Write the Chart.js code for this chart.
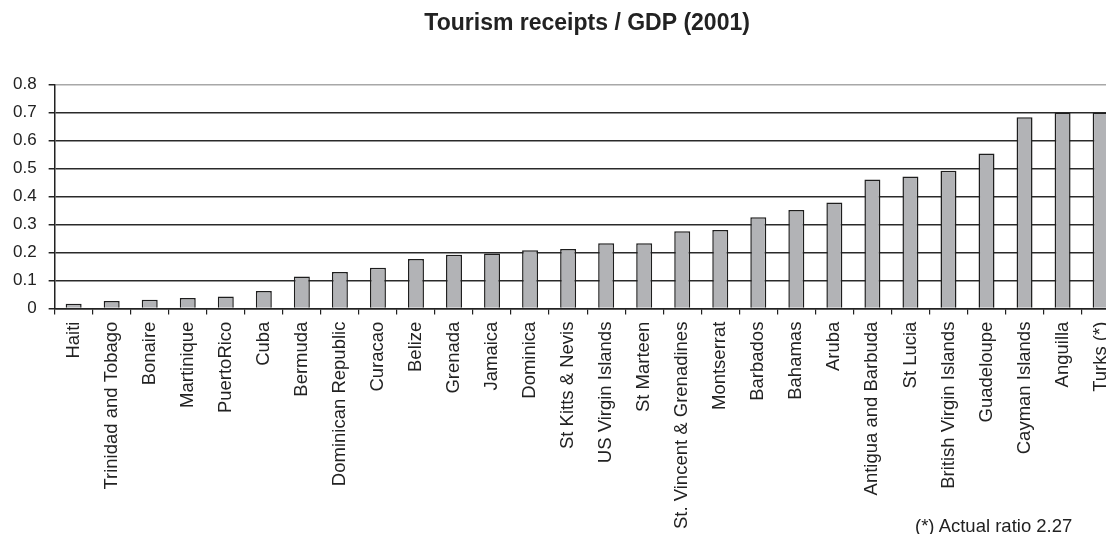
<!DOCTYPE html>
<html>
<head>
<meta charset="utf-8">
<script src="https://cdn.jsdelivr.net/npm/chart.js@4/dist/chart.umd.min.js"></script>
<style>
  html, body { margin: 0; padding: 0; background: #fff; overflow: hidden; }
  #wrap { position: relative; width: 1130px; height: 536px; }
  #note { position: absolute; left: 915px; top: 516px; font: 18.5px "Liberation Sans", Arial, sans-serif; line-height: 20px; color: #222; white-space: nowrap; }
</style>
</head>
<body>
<div id="wrap">
  <canvas id="tourismChart"></canvas>
  <div id="note">(*) Actual ratio 2.27</div>
</div>
<script>
const islands = ['Haiti', 'Trinidad and Tobago', 'Bonaire', 'Martinique', 'PuertoRico', 'Cuba', 'Bermuda',
    'Dominican Republic', 'Curacao', 'Belize', 'Grenada', 'Jamaica', 'Dominica', 'St Kitts & Nevis',
    'US Virgin Islands', 'St Marteen', 'St. Vincent & Grenadines', 'Montserrat', 'Barbados', 'Bahamas',
    'Aruba', 'Antigua and Barbuda', 'St Lucia', 'British Virgin Islands', 'Guadeloupe', 'Cayman Islands',
    'Anguilla', 'Turks (*)'];
const receiptsToGdp = [0.017, 0.027, 0.032, 0.038, 0.043, 0.063, 0.115, 0.131, 0.146, 0.177, 0.192, 0.197,
    0.208, 0.213, 0.233, 0.233, 0.276, 0.281, 0.326, 0.352, 0.379, 0.461, 0.472, 0.492, 0.554, 0.683,
    0.70, 0.70];
const yTickLabels = ['0', '0.1', '0.2', '0.3', '0.4', '0.5', '0.6', '0.7', '0.8'];

function initChart() {
    const ctx = document.getElementById('tourismChart').getContext('2d');
    new Chart(ctx, {
        type: 'bar',
        data: {
            labels: islands,
            datasets: [{
                data: receiptsToGdp,
                backgroundColor: '#b2b3b6',
                borderColor: '#1e1e1e',
                borderWidth: 1.5,
                barPercentage: 0.42,
                categoryPercentage: 1
            }]
        },
        options: {
            responsive: true,
            maintainAspectRatio: false,
            animation: false,
            layout: { padding: { left: 1, right: 0, top: 0, bottom: 0 } },
            plugins: {
                legend: { display: false },
                tooltip: { enabled: false },
                title: {
                    display: true,
                    fullSize: false,
                    text: 'Tourism receipts / GDP (2001)',
                    color: '#222',
                    font: { family: '"Liberation Sans", Arial, sans-serif', size: 23, weight: 'bold' },
                    padding: { top: 10, bottom: 47 }
                }
            },
            scales: {
                x: {
                    grid: {
                        offset: true,
                        drawOnChartArea: false,
                        color: '#222',
                        tickLength: 6,
                        lineWidth: 1.2
                    },
                    border: { display: true, color: '#222', width: 1.5 },
                    ticks: {
                        autoSkip: false,
                        minRotation: 90,
                        maxRotation: 90,
                        padding: 7,
                        color: '#222',
                        font: { family: '"Liberation Sans", Arial, sans-serif', size: 18.5 }
                    }
                },
                y: {
                    min: 0,
                    max: 0.8,
                    grid: {
                        color: function(c) {
                            return c.tick && Math.abs(c.tick.value - 0.8) < 1e-9 ? '#a8a8a8' : '#2a2a2a';
                        },
                        tickColor: '#222',
                        tickLength: 6,
                        lineWidth: 1.5
                    },
                    border: { display: true, color: '#222', width: 1.5 },
                    ticks: {
                        stepSize: 0.1,
                        padding: 12,
                        color: '#222',
                        font: { family: '"Liberation Sans", Arial, sans-serif', size: 17 },
                        callback: function(value, index) {
                            return yTickLabels[index];
                        }
                    }
                }
            }
        }
    });
}

if (document.readyState === 'loading') {
    document.addEventListener('DOMContentLoaded', initChart);
} else {
    initChart();
}
</script>
</body>
</html>
